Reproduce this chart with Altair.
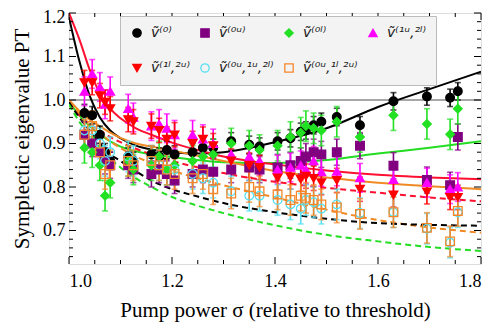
import altair as alt
import pandas as pd

# ---------------- data ----------------
sigma = [1.03, 1.045, 1.06, 1.07, 1.08, 1.115, 1.125, 1.16, 1.175, 1.19, 1.205, 1.24, 1.26, 1.28,
         1.315, 1.35, 1.37, 1.405, 1.43, 1.45, 1.46, 1.475, 1.49, 1.52, 1.565, 1.63, 1.695, 1.74, 1.755]

v0 = [0.97, 0.965, 0.92, 0.88, 0.86, 0.87, 0.86, 0.875, 0.87, 0.885, 0.875, 0.88, 0.89, 0.89,
      0.905, 0.897, 0.893, 0.905, 0.912, 0.927, 0.93, 0.942, 0.95, 0.961, 0.942, 0.997, 1.008, 1.005, 1.02]
v0u = [0.92, 0.9, 0.88, 0.86, 0.85, 0.85, 0.84, 0.83, 0.84, 0.83, 0.815, 0.83, 0.84, 0.835,
       0.84, 0.845, 0.84, 0.845, 0.85, 0.86, 0.87, 0.88, 0.875, 0.88, 0.895, 0.849, 0.816, 0.804, 0.915]
v0l = [0.89, 0.88, 0.85, 0.78, 0.81, 0.86, 0.84, 0.85, 0.87, 0.84, 0.85, 0.86, 0.87, 0.875,
       0.9, 0.895, 0.885, 0.895, 0.915, 0.925, 0.94, 0.935, 0.93, 0.95, 0.915, 0.965, 0.945, 0.921, 0.98]
v1u2l = [1.02, 1.06, 1.03, 0.99, 1.02, 0.98, 0.96, 0.94, 0.945, 0.935, 0.92, 0.92, 0.91, 0.9,
         0.875, 0.87, 0.86, 0.84, 0.845, 0.85, 0.84, 0.86, 0.835, 0.836, 0.821, 0.817, 0.81, 0.795, 0.8]
v1l2u = [1.04, 1.04, 1.01, 0.995, 0.98, 0.955, 0.95, 0.94, 0.93, 0.91, 0.92, 0.9, 0.91, 0.895,
         0.86, 0.85, 0.845, 0.821, 0.823, 0.818, 0.825, 0.82, 0.81, 0.815, 0.795, 0.782, 0.789, 0.776, 0.776]
v0u1u2l = [0.93, 0.93, 0.9, 0.86, 0.88, 0.87, 0.86, 0.86, 0.85, 0.84, 0.84, 0.83, 0.82, 0.81,
           0.79, 0.78, 0.78, 0.77, 0.76, 0.75, 0.77, 0.765, 0.75, 0.76, 0.74, 0.742, 0.704, 0.672, 0.742]
v0u1l2u = [0.92, 0.94, 0.88, 0.83, 0.85, 0.86, 0.85, 0.86, 0.85, 0.84, 0.83, 0.82, 0.83, 0.795,
           0.785, 0.8, 0.79, 0.783, 0.77, 0.78, 0.775, 0.77, 0.76, 0.753, 0.738, 0.742, 0.706, 0.675, 0.745]

errors = [0.02, 0.03, 0.035, 0.033, 0.028, 0.035, 0.035]

labels = ["ṽ⁽⁰⁾", "ṽ⁽⁰ᵘ⁾", "ṽ⁽⁰ˡ⁾", "ṽ⁽¹ᵘ,²ˡ⁾", "ṽ⁽¹ˡ,²ᵘ⁾", "ṽ⁽⁰ᵘ,¹ᵘ,²ˡ⁾", "ṽ⁽⁰ᵘ,¹ˡ,²ᵘ⁾"]
values = [v0, v0u, v0l, v1u2l, v1l2u, v0u1u2l, v0u1l2u]

# fitted curves
curve_x = [1.0, 1.02, 1.04, 1.06, 1.08, 1.1, 1.13, 1.16, 1.2, 1.25, 1.3, 1.4, 1.5, 1.6, 1.7, 1.8]
curves = {
    "black_solid": [1.19, 1.09, 1.01, 0.96, 0.93, 0.912, 0.895, 0.886, 0.88, 0.877, 0.88, 0.903, 0.935, 0.984, 1.025, 1.065],
    "green_solid": [0.995, 0.965, 0.94, 0.92, 0.905, 0.893, 0.882, 0.875, 0.869, 0.862, 0.857, 0.855, 0.862, 0.877, 0.89, 0.905],
    "red_solid": [1.2, 1.14, 1.07, 1.015, 0.98, 0.958, 0.935, 0.92, 0.902, 0.885, 0.87, 0.852, 0.838, 0.828, 0.822, 0.818],
    "orange_solid": [1.0, 0.975, 0.955, 0.94, 0.925, 0.913, 0.9, 0.893, 0.884, 0.872, 0.86, 0.837, 0.822, 0.81, 0.802, 0.795],
    "red_dashed": [0.99, 0.965, 0.945, 0.93, 0.915, 0.903, 0.888, 0.875, 0.86, 0.845, 0.832, 0.812, 0.798, 0.787, 0.776, 0.767],
    "orange_dashed": [0.995, 0.97, 0.945, 0.925, 0.905, 0.89, 0.87, 0.855, 0.838, 0.82, 0.804, 0.776, 0.748, 0.724, 0.707, 0.695],
    "black_dashed": [0.995, 0.96, 0.93, 0.9, 0.875, 0.86, 0.836, 0.815, 0.795, 0.778, 0.763, 0.742, 0.727, 0.717, 0.713, 0.711],
    "green_dashed": [0.99, 0.95, 0.92, 0.89, 0.865, 0.845, 0.82, 0.8, 0.777, 0.757, 0.74, 0.712, 0.69, 0.675, 0.662, 0.653],
}

x_major = [1.0, 1.2, 1.4, 1.6, 1.8]
x_minor = [1.05, 1.1, 1.15, 1.25, 1.3, 1.35, 1.45, 1.5, 1.55, 1.65, 1.7, 1.75]
y_major = [0.7, 0.8, 0.9, 1.0, 1.1, 1.2]
y_minor = [0.64, 0.66, 0.68, 0.72, 0.74, 0.76, 0.78, 0.82, 0.84, 0.86, 0.88, 0.92, 0.94, 0.96, 0.98,
           1.02, 1.04, 1.06, 1.08, 1.12, 1.14, 1.16, 1.18]

# ---------------- styles ----------------
W, H = 412, 251
stroke_colors = ["#000000", "#800080", "#22e022", "#ff00ff", "#ff0000", "#55dff0", "#f5872a"]
fill_colors = ["#000000", "#800080", "#22e022", "#ff00ff", "#ff0000", "transparent", "transparent"]
shapes = ["circle", "square", "diamond", "triangle-up", "triangle-down", "circle", "square"]
curve_styles = {
    "black_solid": ("#000000", []),
    "green_solid": ("#22dd22", []),
    "red_solid": ("#ff1030", []),
    "orange_solid": ("#f08a24", []),
    "red_dashed": ("#ff1030", [6, 4]),
    "orange_dashed": ("#f08a24", [6, 4]),
    "black_dashed": ("#000000", [6, 4]),
    "green_dashed": ("#22dd22", [6, 4]),
}

rows = []
for lab, vals, err in zip(labels, values, errors):
    for s, v in zip(sigma, vals):
        rows.append({"sigma": s, "v": v, "lo": v - err, "hi": v + err, "series": lab})
df = pd.DataFrame(rows)

xscale = alt.Scale(domain=[1.0, 1.8], nice=False, zero=False)
yscale = alt.Scale(domain=[0.623, 1.2], nice=False, zero=False)
serif = "Liberation Serif"

X = alt.X("sigma:Q", scale=xscale,
          axis=alt.Axis(values=x_major, format=".1f", grid=False, ticks=False, domain=False,
                        labelFont=serif, labelFontSize=18, labelPadding=8, labelColor="black",
                        title="Pump power σ (relative to threshold)", titleFont=serif,
                        titleFontSize=21, titleFontWeight="normal", titleColor="black",
                        titleY=46, titleBaseline="middle"))
Y = alt.Y("v:Q", scale=yscale,
          axis=alt.Axis(values=y_major, format=".1f", grid=False, ticks=False, domain=False,
                        labelFont=serif, labelFontSize=18, labelPadding=4, labelColor="black",
                        labelFlush=1, labelFlushOffset=5,
                        title="Symplectic eigenvalue PT", titleFont=serif, titleFontSize=21,
                        titleFontWeight="normal", titleColor="black",
                        titleX=-47, titleY=H / 2, titleAngle=-90, titleAlign="center",
                        titleBaseline="middle"))

sdom = alt.Scale(domain=labels, range=stroke_colors)
fdom = alt.Scale(domain=labels, range=fill_colors)
shdom = alt.Scale(domain=labels, range=shapes)

legend = alt.Legend(orient="none", legendX=51, legendY=3, columns=4, direction="horizontal",
                    gridAlign="none",
                    fillColor="#f3f3f3", strokeColor="#bbbbbb", padding=10,
                    rowPadding=21, columnPadding=8, symbolSize=70, symbolStrokeWidth=1.3,
                    labelFont="DejaVu Sans", labelFontSize=14, labelFontStyle="italic",
                    labelColor="#222222", labelOffset=7, title=None)

# error bars, drawn per series with the series colour
err_layers = []
for lab, col in zip(labels, stroke_colors):
    sub = alt.Chart(df[df["series"] == lab])
    err_layers.append(sub.mark_rule(strokeWidth=1.6, color=col).encode(
        x=alt.X("sigma:Q", scale=xscale), y=alt.Y("lo:Q", scale=yscale), y2="hi:Q"))
    err_layers.append(sub.mark_tick(orient="horizontal", size=6, thickness=1.6, color=col).encode(
        x=alt.X("sigma:Q", scale=xscale), y=alt.Y("lo:Q", scale=yscale)))
    err_layers.append(sub.mark_tick(orient="horizontal", size=6, thickness=1.6, color=col).encode(
        x=alt.X("sigma:Q", scale=xscale), y=alt.Y("hi:Q", scale=yscale)))

pts = alt.Chart(df).mark_point(size=75, strokeWidth=1.3, opacity=1).encode(
    x=X, y=Y,
    stroke=alt.Stroke("series:N", scale=sdom, legend=legend),
    fill=alt.Fill("series:N", scale=fdom, legend=legend),
    shape=alt.Shape("series:N", scale=shdom, legend=legend))

layers = []
for name, ys in curves.items():
    col, dash = curve_styles[name]
    cdf = pd.DataFrame({"sigma": curve_x, "v": ys})
    mk = dict(color=col, strokeWidth=2, interpolate="monotone", clip=True)
    if dash:
        mk["strokeDash"] = dash
    layers.append(alt.Chart(cdf).mark_line(**mk).encode(
        x=alt.X("sigma:Q", scale=xscale), y=alt.Y("v:Q", scale=yscale)))

one_line = alt.Chart(pd.DataFrame({"v": [1.0]})).mark_rule(color="#8a8a8a", strokeWidth=1.6).encode(
    y=alt.Y("v:Q", scale=yscale))

# inward frame ticks
def xticks(vals, L):
    d = pd.DataFrame({"t": vals})
    b = alt.Chart(d).mark_rule(color="black", strokeWidth=1)
    return [b.encode(x=alt.X("t:Q", scale=xscale), y=alt.value(H), y2=alt.value(H - L)),
            b.encode(x=alt.X("t:Q", scale=xscale), y=alt.value(0), y2=alt.value(L))]

def yticks(vals, L):
    d = pd.DataFrame({"t": vals})
    b = alt.Chart(d).mark_rule(color="black", strokeWidth=1)
    return [b.encode(y=alt.Y("t:Q", scale=yscale), x=alt.value(0), x2=alt.value(L)),
            b.encode(y=alt.Y("t:Q", scale=yscale), x=alt.value(W), x2=alt.value(W - L))]

tick_layers = xticks(x_major, 7) + xticks(x_minor, 4) + yticks(y_major, 7) + yticks(y_minor, 4)

chart = alt.layer(one_line, *layers, *err_layers, pts, *tick_layers).properties(
    width=W, height=H,
    autosize=alt.AutoSizeParams(type="none"),
    padding={"left": 61, "top": 5, "right": 12, "bottom": 62},
).configure_view(stroke="black", strokeWidth=1.6).configure(background="white")

chart.save("out.html", embed_options={"renderer": "svg", "actions": False})
